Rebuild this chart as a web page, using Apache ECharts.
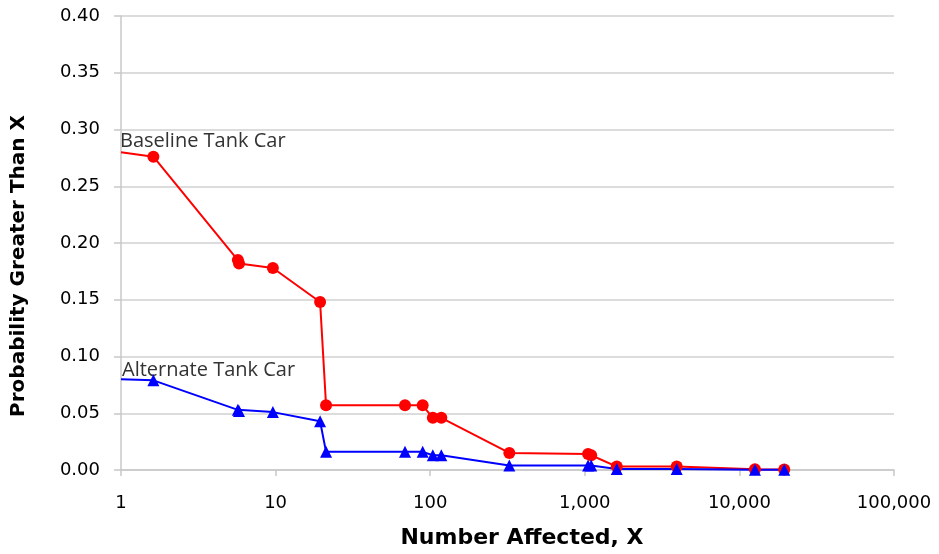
<!DOCTYPE html>
<html>
<head>
<meta charset="utf-8">
<script src="https://cdn.jsdelivr.net/npm/echarts@6/dist/echarts.min.js"></script>
<style>html,body{margin:0;padding:0;background:#fff}#c{width:939px;height:554px}</style>
</head>
<body>
<div id="c"></div>
<script>
var xValues = [1, 1.62, 5.7, 5.8, 9.6, 19.4, 21.2, 68.7, 89.4, 104, 118, 325, 1050, 1100, 1610, 3930, 12600, 19500];
var baseline = [0.28, 0.276, 0.185, 0.182, 0.178, 0.148, 0.057, 0.057, 0.057, 0.046, 0.046, 0.015, 0.014, 0.013, 0.003, 0.003, 0.0007, 0.0004];
var alternate = [0.080, 0.079, 0.053, 0.052, 0.051, 0.043, 0.016, 0.016, 0.016, 0.013, 0.013, 0.004, 0.004, 0.004, 0.0008, 0.0008, 0.0003, 0.0002];
var seriesNames = ['Baseline Tank Car', 'Alternate Tank Car'];
var xTitle = 'Number Affected, X';
var yTitle = 'Probability Greater Than X';

function build(vals) {
  return xValues.map(function (x, i) {
    var d = { value: [x, vals[i]] };
    if (i === 0) d.symbol = 'none';
    return d;
  });
}

var chart = echarts.init(document.getElementById('c'));
chart.setOption({
  animation: false,
  grid: { left: 121, right: 45, top: 16, bottom: 84, outerBoundsMode: 'none', containLabel: false },
  xAxis: {
    type: 'log', logBase: 10, min: 1, max: 100000,
    axisLine: { lineStyle: { color: '#c8c8c8', width: 1.5 } },
    axisTick: { show: true, length: 6, lineStyle: { color: '#c8c8c8', width: 1.5 } },
    minorTick: { show: false },
    splitLine: { show: false },
    axisLabel: {
      fontFamily: 'DejaVu Sans', fontSize: 18, color: '#000', margin: 24,
      formatter: function (v) { return Math.round(v).toLocaleString('en-US'); }
    }
  },
  yAxis: {
    type: 'value', min: 0, max: 0.4, interval: 0.05,
    axisLine: { show: true, lineStyle: { color: '#c8c8c8', width: 1.5 } },
    axisTick: { show: true, length: 7, lineStyle: { color: '#c8c8c8', width: 1.5 } },
    splitLine: { show: true, lineStyle: { color: '#d0d0d0', width: 1.5 } },
    axisLabel: {
      fontFamily: 'DejaVu Sans', fontSize: 18, color: '#000', margin: 21,
      formatter: function (v) { return v.toFixed(2); }
    }
  },
  series: [
    {
      name: seriesNames[0], type: 'line', data: build(baseline),
      symbol: 'circle', symbolSize: 12,
      lineStyle: { color: '#ff0000', width: 2 },
      itemStyle: { color: '#ff0000' }
    },
    {
      name: seriesNames[1], type: 'line', data: build(alternate),
      symbol: 'triangle', symbolSize: 12,
      lineStyle: { color: '#0000ff', width: 2 },
      itemStyle: { color: '#0000ff' }
    }
  ],
  graphic: [
    { type: 'text', left: 120, top: 131, style: { text: seriesNames[0], fontFamily: 'Open Sans', fontSize: 20, fill: '#333' } },
    { type: 'text', left: 122, top: 360, style: { text: seriesNames[1], fontFamily: 'Open Sans', fontSize: 20, fill: '#333' } },
    { type: 'text', x: 522, y: 538, style: { text: xTitle, fontFamily: 'DejaVu Sans', fontWeight: 'bold', fontSize: 22, fill: '#000', align: 'center', verticalAlign: 'middle' } },
    { type: 'text', x: 19, y: 266, rotation: Math.PI / 2, style: { text: yTitle, fontFamily: 'DejaVu Sans', fontWeight: 'bold', fontSize: 20, fill: '#000', align: 'center', verticalAlign: 'middle' } }
  ]
});
</script>
</body>
</html>
